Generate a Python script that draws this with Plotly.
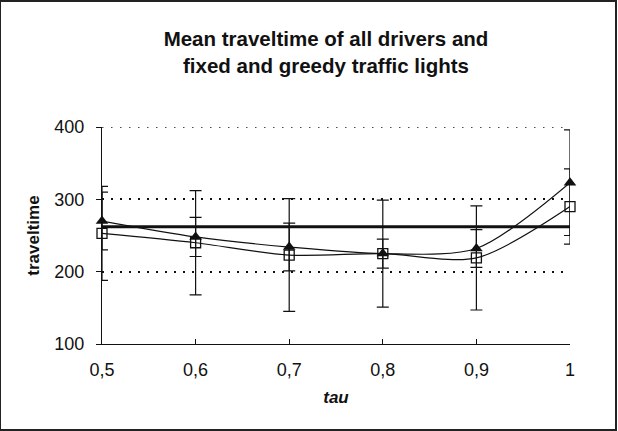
import plotly.graph_objects as go

tau = [0.5, 0.6, 0.7, 0.8, 0.9, 1.0]
tick_labels = ["0,5", "0,6", "0,7", "0,8", "0,9", "1"]
greedy_a = [270, 248, 234, 225, 232, 323]
greedy_a_err = [40, 27, 33, 20, 26, 73]
greedy_b = [253, 240, 223, 225, 219, 290]
greedy_b_err = [65, 72, 78, 74, 72, 52]
fixed_value = 262
y_ticks = [100, 200, 300, 400]

W, H = 618, 431
FONT = "Liberation Sans, Arial, sans-serif"
GRID_DASH = "1.5px,7.5px"

fig = go.Figure()

fig.add_trace(go.Scatter(
    x=[tau[0], tau[-1]], y=[fixed_value, fixed_value], mode="lines",
    line=dict(color="#111111", width=3), showlegend=False, hoverinfo="skip",
    cliponaxis=False))

fig.add_trace(go.Scatter(
    x=tau, y=greedy_b, mode="lines+markers", cliponaxis=False,
    line=dict(color="#111111", width=1.2, shape="spline", smoothing=0.8),
    marker=dict(symbol="square-open", size=10, color="#111111", line=dict(width=1.3)),
    error_y=dict(type="data", array=greedy_b_err, visible=True, color="#111111",
                 thickness=1.2, width=6),
    showlegend=False))

fig.add_trace(go.Scatter(
    x=tau, y=greedy_a, mode="lines+markers", cliponaxis=False,
    line=dict(color="#111111", width=1.2, shape="spline", smoothing=0.8),
    marker=dict(symbol="triangle-up", size=11, color="#111111"),
    error_y=dict(type="data", array=greedy_a_err, visible=True, color="#111111",
                 thickness=1.2, width=6),
    showlegend=False))

fig.update_layout(
    width=W, height=H,
    margin=dict(l=102, r=48, t=127, b=87),
    paper_bgcolor="white", plot_bgcolor="white",
    font=dict(family=FONT, color="#111111", size=18),
    title=dict(text="<b>Mean traveltime of all drivers and<br>fixed and greedy traffic lights</b>",
               x=326 / W, xanchor="center", xref="container",
               y=1 - 46 / H, yanchor="middle", yref="container",
               font=dict(size=20.5, family=FONT, color="#111111")),
    xaxis=dict(range=[0.5, 1.0], tickvals=tau, ticktext=tick_labels,
               showgrid=False, zeroline=False, showline=True, linecolor="#111111",
               linewidth=1.2, ticks="inside", ticklen=5, tickcolor="#111111",
               tickfont=dict(size=18), ticklabelstandoff=9,
               title=dict(text="<b><i>tau</i></b>", font=dict(size=17), standoff=12)),
    yaxis=dict(range=[100, 400], tickvals=y_ticks,
               showgrid=True, gridcolor="#111111", gridwidth=1.5, griddash=GRID_DASH,
               zeroline=False, showline=True, linecolor="#111111", linewidth=1.2,
               ticks="outside", ticklen=5, tickcolor="#111111",
               tickfont=dict(size=18), ticklabelstandoff=8,
               title=dict(text="<b>traveltime</b>", font=dict(size=17), standoff=10)),
    shapes=[
        dict(type="line", xref="paper", yref="y", x0=0, x1=1,
             y0=y_ticks[-1], y1=y_ticks[-1],
             line=dict(color="#111111", width=1.5, dash=GRID_DASH), layer="below"),
        dict(type="rect", xref="paper", yref="paper",
             x0=-102 / (W - 150), x1=1 + 46 / (W - 150),
             y0=-86 / (H - 214), y1=1 + 126 / (H - 214),
             line=dict(color="#222222", width=2), fillcolor="rgba(0,0,0,0)",
             layer="below"),
    ],
)

fig.write_html("out.html")
